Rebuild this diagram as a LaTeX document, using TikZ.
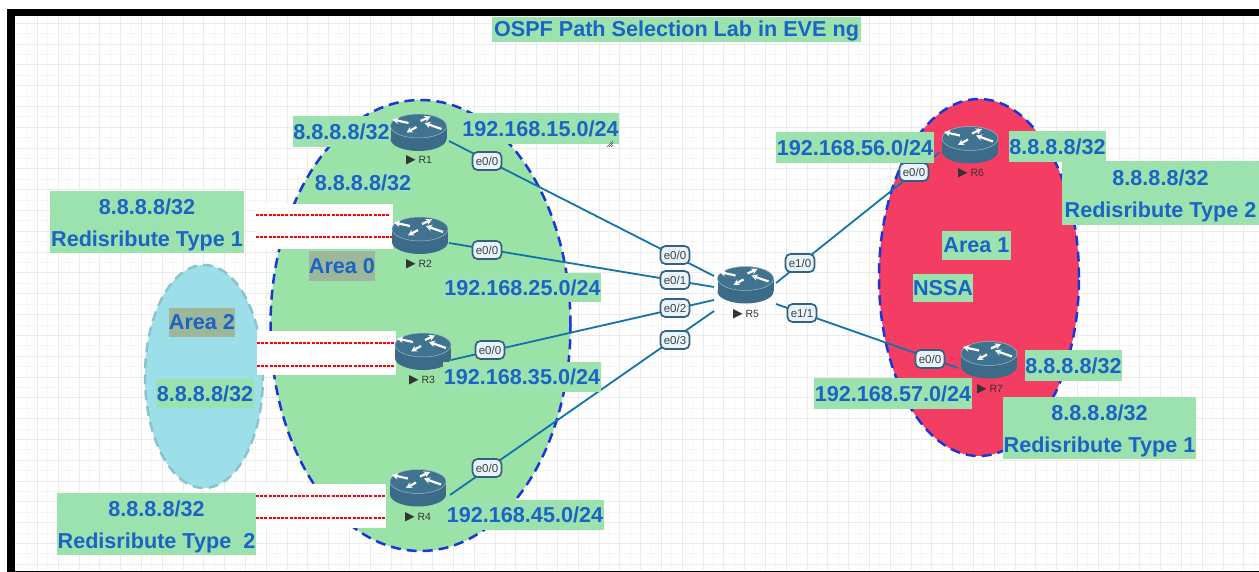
\documentclass[tikz,border=0pt]{standalone}
\usepackage{fontspec}
\setmainfont{Liberation Sans}
\newfontfamily\dejavu{DejaVu Sans}
\definecolor{gridminor}{HTML}{F5F5F5}
\definecolor{gridmajor}{HTML}{EBEBEB}
\definecolor{labelgreen}{HTML}{9BE2AE}
\definecolor{areagreen}{HTML}{9BE2A6}
\definecolor{areablue}{HTML}{9CDFE8}
\definecolor{areared}{HTML}{F33D62}
\definecolor{labelblue}{HTML}{1C63C6}
\definecolor{areagrey}{HTML}{9DB79A}
\definecolor{linkblue}{HTML}{1272AE}
\definecolor{routerbody}{HTML}{3B6B88}
\definecolor{routertop}{HTML}{3F7390}
\definecolor{portedge}{HTML}{35607F}
\definecolor{portfill}{HTML}{E8F4FC}
\definecolor{dashblue}{HTML}{1A35D8}
\usetikzlibrary{shapes.geometric,arrows.meta}
\tikzset{
  x=1pt,y=-1pt,
  greenbox/.style={fill=labelgreen,inner sep=0pt,text=labelblue,align=center,font=\fontsize{21.6}{31.5}\selectfont\bfseries},
  greybox/.style={greenbox,fill=areagrey},
  areazone/.style={ellipse,draw=dashblue,line width=2.5pt,dash pattern=on 10pt off 6pt,inner sep=0pt},
  link/.style={draw=linkblue,line width=1.8pt},
  portlabel/.style={draw=portedge,fill=portfill,line width=1.7pt,rounded corners=5pt,inner sep=0pt,minimum width=29pt,minimum height=18pt,text=black!75,font=\fontsize{11.5}{13}\selectfont},
  routerbox/.style={inner sep=0pt,minimum width=57pt,minimum height=37pt},
  routername/.style={inner sep=0pt,text=black!80,font=\fontsize{10.5}{12}\selectfont},
  whitegap/.style={fill=white,inner sep=0pt},
  redline/.style={draw=red,line width=1.3pt,dash pattern=on 3pt off 1.2pt},
  routerarrow/.style={draw=white,line width=2.2pt,-{Stealth[length=6pt,width=6.5pt]}},
  pics/routericon/.style={code={
    \fill[routerbody] (0,6.5) ellipse[x radius=28,y radius=12];
    \fill[routerbody] (-28,-6.5) rectangle (28,6.5);
    \fill[routertop,draw=white!50!routertop,line width=.5pt] (0,-6.5) ellipse[x radius=28,y radius=12];
    \draw[routerarrow] (-10,-9.5) -- (-26,-13);
    \draw[routerarrow] (2,-11.5) -- (12,-16);
    \draw[routerarrow] (23,-3.5) -- (6,-9.5);
    \draw[routerarrow] (-2,-5.5) -- (-12,0);
  }}
}
\newcommand{\playmark}{{\dejavu\fontsize{12.5}{12}\selectfont ▶}}
\newcommand{\tallfirst}{\rule{0pt}{21.5pt}}
\begin{document}
\begin{tikzpicture}
\useasboundingbox (0,0) rectangle (1259,572);
\fill[white] (0,0) rectangle (1259,572);
% grid
\foreach \k in {0,...,60}{
  \draw[gridminor,line width=.8pt] ({27+20.8*\k},16) -- ({27+20.8*\k},570);
  \draw[gridmajor,line width=.8pt] ({37.4+20.8*\k},16) -- ({37.4+20.8*\k},570);
}
\foreach \k in {0,...,27}{
  \draw[gridminor,line width=.8pt] (15,{33.7+20.8*\k}) -- (1259,{33.7+20.8*\k});
  \draw[gridmajor,line width=.8pt] (15,{23.3+20.8*\k}) -- (1259,{23.3+20.8*\k});
}
% frame
\fill[black] (7,9) rectangle (1259,16);
\fill[black] (7,9) rectangle (15,572);
\fill[black] (7,571) rectangle (1259,572);
% areas
\node[areazone,fill=areablue,draw=areablue!88!black,minimum width=118pt,minimum height=223pt] (area2) at (204,376.5) {};
\node[areazone,fill=areagreen,minimum width=300pt,minimum height=451pt] (area0) at (420.5,325.5) {};
\node[areazone,fill=areared,minimum width=200pt,minimum height=357pt] (area1) at (979,277.5) {};
% white gaps with redistribution lines
\node[whitegap,minimum width=138pt,minimum height=45pt] (gapA) at (324,226.5) {};
\node[whitegap,minimum width=139pt,minimum height=44pt] (gapB) at (326.5,353) {};
\node[whitegap,minimum width=131pt,minimum height=44pt] (gapC) at (320.5,506) {};
\coordinate (a1) at (256,215); \coordinate (a2) at (390,215);
\coordinate (a3) at (256,237); \coordinate (a4) at (392,237);
\coordinate (b1) at (257,343); \coordinate (b2) at (395,343);
\coordinate (b3) at (257,366); \coordinate (b4) at (395,366);
\coordinate (c1) at (256,496); \coordinate (c2) at (385,496);
\coordinate (c3) at (256,518); \coordinate (c4) at (385,518);
\draw[redline] (a1) -- (a2);
\draw[redline] (a3) -- (a4);
\draw[redline] (b1) -- (b2);
\draw[redline] (b3) -- (b4);
\draw[redline] (c1) -- (c2);
\draw[redline] (c3) -- (c4);
% routers
\node[routerbox] (R1) at (418.5,132.5) {}; \pic at (R1) {routericon};
\node[routerbox] (R2) at (420,235.5) {}; \pic at (R2) {routericon};
\node[routerbox] (R3) at (423,351.5) {}; \pic at (R3) {routericon};
\node[routerbox] (R4) at (418,488) {}; \pic at (R4) {routericon};
\node[routerbox] (R5) at (745.5,285) {}; \pic at (R5) {routericon};
\node[routerbox] (R6) at (970,145) {}; \pic at (R6) {routericon};
\node[routerbox] (R7) at (989,360) {}; \pic at (R7) {routericon};
\node[routername] (R1n) at (419,160.5) {\playmark{} R1};
\node[routername] (R2n) at (419,264) {\playmark{} R2};
\node[routername] (R3n) at (422,380) {\playmark{} R3};
\node[routername] (R4n) at (418,517) {\playmark{} R4};
\node[routername] (R5n) at (746,314) {\playmark{} R5};
\node[routername] (R6n) at (971,173) {\playmark{} R6};
\node[routername] (R7n) at (990,389) {\playmark{} R7};
% link ends
\coordinate (r1e) at (449,141);  \coordinate (r5a) at (714,276);
\coordinate (r2e) at (449,243);  \coordinate (r5b) at (714,287);
\coordinate (r3e) at (451,360);  \coordinate (r5c) at (714,300);
\coordinate (r4e) at (450,495);  \coordinate (r5d) at (714,311);
\coordinate (r5e) at (776,283);  \coordinate (r6e) at (940,152);
\coordinate (r5f) at (776,304);  \coordinate (r7e) at (958,368);
\draw[link] (r1e) -- (r5a);
\draw[link] (r2e) -- (r5b);
\draw[link] (r3e) -- (r5c);
\draw[link] (r4e) -- (r5d);
\draw[link] (r5e) -- (r6e);
\draw[link] (r5f) -- (r7e);
% port labels
\node[portlabel] (p1) at (487,161) {e0/0};
\node[portlabel] (p2) at (487,250) {e0/0};
\node[portlabel] (p3) at (490,350) {e0/0};
\node[portlabel] (p4) at (487,468) {e0/0};
\node[portlabel] (p5) at (675,255) {e0/0};
\node[portlabel] (p6) at (675,280) {e0/1};
\node[portlabel] (p7) at (675,308) {e0/2};
\node[portlabel] (p8) at (675,340) {e0/3};
\node[portlabel] (p9) at (800,263) {e1/0};
\node[portlabel] (p10) at (802,313) {e1/1};
\node[portlabel] (p11) at (914,172) {e0/0};
\node[portlabel] (p12) at (930,359) {e0/0};
% text boxes
\node[greenbox,minimum width=369pt,minimum height=25pt] (title) at (676.5,29.5) {\rule{0pt}{19.5pt}OSPF Path Selection Lab in EVE ng};
\node[greenbox,minimum width=97pt,minimum height=31pt] (t1) at (341.5,131.5) {8.8.8.8/32};
\node[greenbox,minimum width=157pt,minimum height=31pt] (t2) at (540.5,128.5) {192.168.15.0/24};
\node[greenbox,minimum width=96pt,minimum height=28pt] (t3) at (363,183) {8.8.8.8/32};
\node[greenbox,minimum width=194pt,minimum height=62pt] (t4) at (147,222) {\tallfirst 8.8.8.8/32\\Redisribute Type 1};
\node[greybox,minimum width=66pt,minimum height=30pt] (t5) at (342,266) {Area 0};
\node[greenbox,minimum width=157pt,minimum height=29pt] (t6) at (522.5,287.5) {192.168.25.0/24};
\node[greybox,minimum width=66pt,minimum height=29pt] (t7) at (202,322.5) {Area 2};
\node[greenbox,minimum width=158pt,minimum height=30pt] (t8) at (522,377) {192.168.35.0/24};
\node[greenbox,minimum width=98pt,minimum height=29pt] (t9) at (205,393.5) {8.8.8.8/32};
\node[greenbox,minimum width=158pt,minimum height=30pt] (t10) at (525,515) {192.168.45.0/24};
\node[greenbox,minimum width=199pt,minimum height=62pt] (t11) at (156.5,524) {\tallfirst 8.8.8.8/32\\Redisribute Type\ \ 2};
\node[greenbox,minimum width=158pt,minimum height=31pt] (t12) at (855,147.5) {192.168.56.0/24};
\node[greenbox,minimum width=97pt,minimum height=31pt] (t13) at (1057.5,146.5) {8.8.8.8/32};
\node[greenbox,minimum width=197pt,minimum height=64pt] (t14) at (1160.5,193) {\tallfirst 8.8.8.8/32\\Redisribute Type 2};
\node[greenbox,minimum width=69pt,minimum height=29pt] (t15) at (976.5,245.5) {Area 1};
\node[greenbox,minimum width=60pt,minimum height=28pt] (t16) at (943,288) {NSSA};
\node[greenbox,minimum width=97pt,minimum height=31pt] (t17) at (1073.5,365.5) {8.8.8.8/32};
\node[greenbox,minimum width=158pt,minimum height=31pt] (t18) at (893,393.5) {192.168.57.0/24};
\node[greenbox,minimum width=193pt,minimum height=62pt] (t19) at (1099.5,428) {\tallfirst 8.8.8.8/32\\Redisribute Type 1};
% resize handle of the label box
\foreach \d in {0,2,4,6}{
  \draw[black!70,line width=.5pt] ({607+\d},147) -- ({613},{141+\d});
}
\end{tikzpicture}
\end{document}
